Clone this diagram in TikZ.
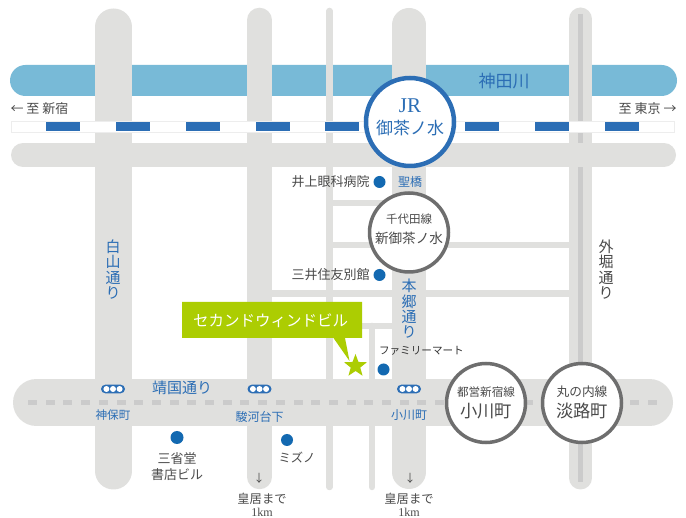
\documentclass[tikz,border=0pt]{standalone}
\usepackage{fontspec}
\setmainfont{Noto Sans CJK JP}
\newfontfamily\latinserif{Liberation Serif}
\usetikzlibrary{shapes.geometric}
\definecolor{roadc}{HTML}{E0E0DE}
\definecolor{roaddark}{HTML}{CBCBCB}
\definecolor{riverc}{HTML}{78BAD7}
\definecolor{bluec}{HTML}{2C6EB5}
\definecolor{dotc}{HTML}{1369B1}
\definecolor{ringc}{HTML}{6E6E6E}
\definecolor{txtc}{HTML}{4A4A4A}
\definecolor{greenc}{HTML}{ACCD02}
\newcommand{\fsz}[1]{\fontsize{#1}{#1}\selectfont}
\tikzset{
  x=1pt,y=-1pt,
  road/.style={line width=#1,color=roadc,line cap=round},
  street/.style={line width=6.5pt,color=roadc,line cap=butt},
  lbl/.style={inner sep=0pt,outer sep=0pt,text=txtc,align=center},
  bluelbl/.style={lbl,text=bluec},
  vert/.style={inner sep=0pt,outer sep=0pt,align=center,font=\fsz{15}\linespread{1.02}\selectfont},
  dot/.style={circle,fill=dotc,inner sep=0pt,minimum size=12pt},
  jrring/.style={circle,draw=bluec,line width=4.5pt,fill=white,inner sep=0pt,minimum size=88pt},
  ring/.style={circle,draw=ringc,line width=3.5pt,fill=white,inner sep=0pt,minimum size=79pt},
  railseg/.style={fill=bluec,draw=none},
  pill/.pic={
    \fill[bluec,rounded corners=4.3pt] (-12,-4.3) rectangle (12,4.3);
    \foreach \p in {-6.6,0,6.6}{\fill[white] (\p,0) circle (3pt);}
  }
}
\begin{document}
\begin{tikzpicture}
\useasboundingbox (0,0) rectangle (686,518);
\fill[white] (0,0) rectangle (686,518);
% river
\fill[riverc,rounded corners=15.5pt] (10,65) rectangle (677,96);
% vertical roads
\coordinate (hakT) at (113.5,27); \coordinate (hakB) at (113.5,471);
\draw[road=37pt] (hakT) -- (hakB);
\coordinate (sunT) at (259.5,20); \coordinate (sunB) at (259.5,477);
\draw[road=24.5pt] (sunT) -- (sunB);
\coordinate (thinT) at (329.5,11); \coordinate (thinB) at (329.5,487);
\draw[road=6.5pt] (thinT) -- (thinB);
\coordinate (honT) at (409,25); \coordinate (honB) at (409,472);
\draw[road=34pt] (honT) -- (honB);
\coordinate (sotT) at (580.5,19); \coordinate (sotB) at (580.5,478);
\draw[road=23pt] (sotT) -- (sotB);
\coordinate (sotiT) at (580.5,14); \coordinate (sotiB) at (580.5,482);
\draw[line width=5pt,color=roaddark] (sotiT) -- (sotiB);
% horizontal roads
\coordinate (h1L) at (23,155); \coordinate (h1R) at (664,155);
\draw[road=24pt] (h1L) -- (h1R);
\coordinate (yasL) at (36.5,402.5); \coordinate (yasR) at (649.5,402.5);
\draw[road=47pt] (yasL) -- (yasR);
% streets
\coordinate (s1a) at (329.5,203); \coordinate (s1b) at (400,203);
\draw[street] (s1a) -- (s1b);
\coordinate (s2a) at (329.5,245); \coordinate (s2b) at (575,245);
\draw[street] (s2a) -- (s2b);
\coordinate (s3a) at (265,293.5); \coordinate (s3b) at (575,293.5);
\draw[street] (s3a) -- (s3b);
\coordinate (s4a) at (329.5,326); \coordinate (s4b) at (400,326);
\draw[street] (s4a) -- (s4b);
\coordinate (s5a) at (372,326); \coordinate (s5b) at (372,487);
\draw[road=6.5pt] (s5a) -- (s5b);
% Yasukuni dashes
\foreach \k in {0,...,35}{\fill[roaddark] ({28+\k*17.7},400) rectangle ++(9,5);}
% rail
\fill[white,draw=black!7,line width=0.8pt] (11,121.5) rectangle (674,132.5);
\foreach \a in {46,116,186,255.5,325,395,465,534.5,604.5}{\fill[railseg] (\a,122) rectangle ++(34.2,9.5);}
% station rings
\node[jrring] (jr) at (410,122) {};
\node[ring] (chi) at (409,232.5) {};
\node[ring] (oga) at (486,403) {};
\node[ring] (awa) at (582,403) {};
% jr text
\node[bluelbl,font=\latinserif\fsz{21}] (jr1) at (410,106) {JR};
\node[bluelbl,font=\fsz{17}] (jr2) at (410,128) {御茶ノ水};
\node[lbl,font=\fsz{11.5}] (chi1) at (409,219) {千代田線};
\node[lbl,font=\fsz{13.6}] (chi2) at (409,238.5) {新御茶ノ水};
\node[lbl,font=\fsz{11.6}] (oga1) at (486,392) {都営新宿線};
\node[lbl,font=\fsz{17.3}] (oga2) at (486,411) {小川町};
\node[lbl,font=\fsz{12.7}] (awa1) at (582,392) {丸の内線};
\node[lbl,font=\fsz{17.3}] (awa2) at (582,411) {淡路町};
% river and direction labels
\node[bluelbl,font=\fsz{17}] (kanda) at (504,81) {神田川};
\node[lbl,font=\fsz{13},anchor=west] (shin) at (10.5,109) {← 至 新宿};
\node[lbl,font=\fsz{13},anchor=east] (tok) at (676.5,109) {至 東京 →};
% road labels
\node[bluelbl,vert] (hak) at (113,269.5) {白\\山\\通\\り};
\node[lbl,vert] (sot) at (606,269.5) {外\\堀\\通\\り};
\node[bluelbl,vert] (hon) at (409,309) {本\\郷\\通\\り};
\node[bluelbl,font=\fsz{15}] (yas) at (182,388) {靖国通り};
\node[bluelbl,font=\fsz{12}] (hij) at (410,182) {聖橋};
% landmarks
\node[dot] (d1) at (379.5,182) {};
\node[lbl,font=\fsz{13},anchor=east] (inoue) at (369.5,182) {井上眼科病院};
\node[dot] (d2) at (379.5,275) {};
\node[lbl,font=\fsz{13},anchor=east] (mitsui) at (369.5,275) {三井住友別館};
\node[lbl,font=\fsz{10.6},anchor=west,text=black!80] (fm) at (379,351) {ファミリーマート};
\node[dot] (d3) at (383.5,369.5) {};
\node[dot,minimum size=13pt] (d4) at (177,437.5) {};
\node[lbl,font=\fsz{13}] (san1) at (177,458.5) {三省堂};
\node[lbl,font=\fsz{13}] (san2) at (177,474.5) {書店ビル};
\node[dot] (d5) at (287,440) {};
\node[lbl,font=\fsz{12.3}] (miz) at (297,458) {ミズノ};
% stations on Yasukuni
\pic at (113,389) {pill};
\pic at (259.5,389) {pill};
\pic at (409,389) {pill};
\node[bluelbl,font=\fsz{11.6}] (jim) at (113,415) {神保町};
\node[bluelbl,font=\fsz{12}] (sur) at (259.5,417) {駿河台下};
\node[bluelbl,font=\fsz{12}] (ogl) at (409,415) {小川町};
% to palace
\node[lbl,font=\fsz{11}] (ar1) at (259,478) {↓};
\node[lbl,font=\fsz{11}] (ar2) at (410,478) {↓};
\node[lbl,font=\fsz{12.3}] (kk1) at (262,499) {皇居まで};
\node[lbl,font=\latinserif\fsz{12}] (km1) at (262,512) {1km};
\node[lbl,font=\fsz{12.3}] (kk2) at (409,499) {皇居まで};
\node[lbl,font=\latinserif\fsz{12}] (km2) at (409,512) {1km};
% callout
\fill[greenc] (182,302) -- (362,302) -- (362,338) -- (345,338) -- (349.5,361) -- (333.5,338) -- (182,338) -- cycle;
\node[star,star points=5,star point ratio=2.4,fill=greenc,inner sep=0pt,minimum size=24pt] (st) at (355.5,366) {};
\node[inner sep=0pt,text=white,font=\fsz{15.5}] (bld) at (270.5,320.5) {セカンドウィンドビル};
\end{tikzpicture}
\end{document}
